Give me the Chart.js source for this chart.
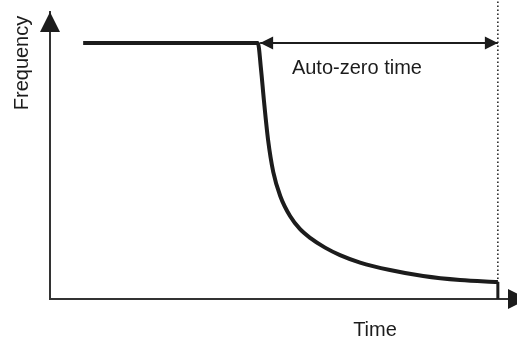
<!DOCTYPE html>
<html>
<head>
<meta charset="utf-8">
<script src="https://cdn.jsdelivr.net/npm/chart.js@4.4.1/dist/chart.umd.min.js"></script>
<style>
  html, body { margin: 0; padding: 0; background: #fff; }
  #caixa { width: 517px; height: 338px; }
</style>
</head>
<body>
<div id="caixa"><canvas id="grafico"></canvas></div>
<script>
// Curva da frequencia: patamar e depois queda durante o auto-zero
const tempo = [7.1, 44.5, 45.2, 45.8, 46.7, 47.8, 49.3, 51.4, 53.5, 55.7, 58.9, 62.1, 66.4, 72.8, 79.9, 87.8, 95.9];
const frequencia = [89.2, 89.2, 79.8, 69.3, 55.4, 44.3, 35.9, 28.9, 24.4, 21.3, 17.9, 15.3, 12.7, 10.1, 8.0, 6.6, 5.9];

// Queda final ate zero
const quedaTempo = [95.9, 95.9];
const quedaFreq = [5.9, 0];

// Intervalo do auto-zero (seta dupla) e linha pontilhada do fim
const intervaloTempo = [45.0, 95.9];
const intervaloFreq = [89.2, 89.2];
const fimTempo = [95.9, 95.9];
const fimFreq = [0, 104.2];

// Textos
const tituloX = 'Time';
const tituloY = 'Frequency';
const rotuloIntervalo = 'Auto-zero time';
const posRotulo = { x: 51.8, y: 78.4 };

const fonte = '20px "Liberation Sans", Arial, sans-serif';
const cor = '#1c1c1c';

function pontos(xs, ys) {
  return xs.map((x, i) => ({ x: x, y: ys[i] }));
}

// Desenha um triangulo com a ponta em (x, y) apontando na direcao (dx, dy)
function triangulo(ctx, x, y, dx, dy, comp, meia) {
  const bx = x - dx * comp, by = y - dy * comp;
  ctx.beginPath();
  ctx.moveTo(x, y);
  ctx.lineTo(bx - dy * meia, by + dx * meia);
  ctx.lineTo(bx + dy * meia, by - dx * meia);
  ctx.closePath();
  ctx.fill();
}

// Plugin: pontas das setas e textos
const setas = {
  id: 'setas',
  afterDraw(chart) {
    const ctx = chart.ctx;
    const area = chart.chartArea;
    const sx = chart.scales.x, sy = chart.scales.y;
    ctx.save();
    ctx.fillStyle = cor;

    // pontas dos eixos
    triangulo(ctx, area.left, area.top, 0, -1, 20, 10);
    triangulo(ctx, area.right + 11, area.bottom, 1, 0, 20, 10);

    // seta dupla do intervalo
    chart.data.datasets.forEach((ds, i) => {
      if (!ds.setaDupla) return;
      const pts = chart.getDatasetMeta(i).data;
      const a = pts[0], b = pts[pts.length - 1];
      triangulo(ctx, a.x, a.y, -1, 0, 13, 6.5);
      triangulo(ctx, b.x, b.y, 1, 0, 13, 6.5);
    });

    ctx.font = fonte;
    ctx.textBaseline = 'alphabetic';

    // rotulo do intervalo
    ctx.textAlign = 'left';
    ctx.fillText(rotuloIntervalo, sx.getPixelForValue(posRotulo.x), sy.getPixelForValue(posRotulo.y));

    // titulo do eixo x
    ctx.textAlign = 'center';
    ctx.fillText(tituloX, 375, area.bottom + 37);

    // titulo do eixo y (girado)
    ctx.translate(area.left - 22, 63);
    ctx.rotate(-Math.PI / 2);
    ctx.fillText(tituloY, 0, 0);
    ctx.restore();
  }
};

new Chart(document.getElementById('grafico'), {
  type: 'scatter',
  data: {
    datasets: [
      {
        data: pontos(tempo, frequencia),
        showLine: true,
        borderColor: cor,
        borderWidth: 4,
        pointRadius: 0,
        cubicInterpolationMode: 'monotone',
        borderJoinStyle: 'round'
      },
      {
        data: pontos(quedaTempo, quedaFreq),
        showLine: true,
        borderColor: cor,
        borderWidth: 3,
        pointRadius: 0
      },
      {
        data: pontos(intervaloTempo, intervaloFreq),
        showLine: true,
        borderColor: cor,
        borderWidth: 2,
        pointRadius: 0,
        setaDupla: true
      },
      {
        data: pontos(fimTempo, fimFreq),
        showLine: true,
        borderColor: cor,
        borderWidth: 1.5,
        borderDash: [1.5, 2.5],
        pointRadius: 0,
        clip: false
      }
    ]
  },
  options: {
    responsive: true,
    maintainAspectRatio: false,
    animation: false,
    events: [],
    layout: { autoPadding: false, padding: { left: 50, top: 12, right: 0, bottom: 39 } },
    plugins: { legend: { display: false }, tooltip: { enabled: false } },
    scales: {
      x: {
        type: 'linear', min: 0, max: 100,
        grid: { display: false, drawTicks: false },
        border: { display: true, color: '#333', width: 2 },
        ticks: { display: false }
      },
      y: {
        type: 'linear', min: 0, max: 100,
        grid: { display: false, drawTicks: false },
        border: { display: true, color: '#333', width: 2 },
        ticks: { display: false }
      }
    }
  },
  plugins: [setas]
});
</script>
</body>
</html>
